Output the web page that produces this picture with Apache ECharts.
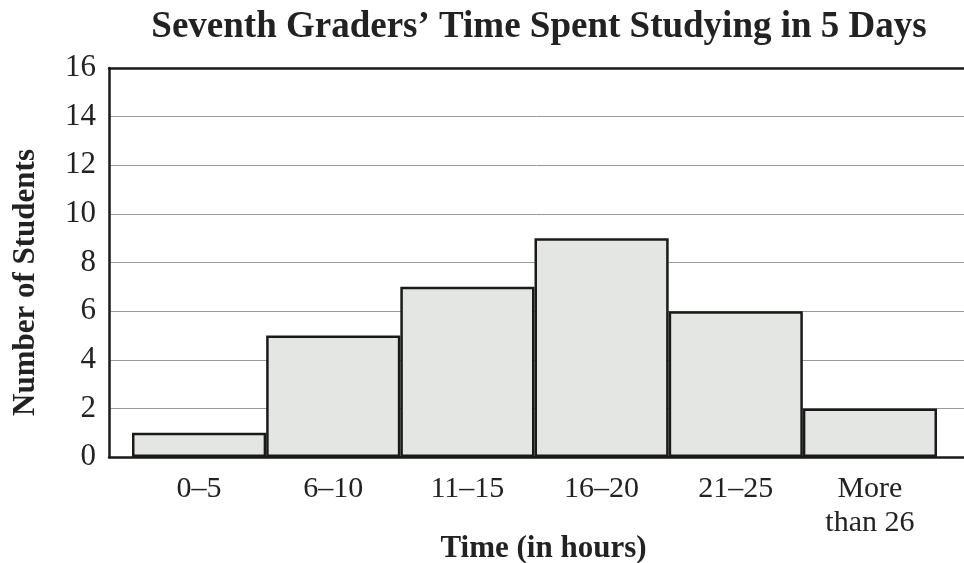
<!DOCTYPE html>
<html>
<head>
<meta charset="utf-8">
<script src="https://cdn.jsdelivr.net/npm/echarts@6/dist/echarts.min.js"></script>
<style>
  html, body { margin: 0; padding: 0; background: #fff; }
  #chart { width: 964px; height: 563px; }
</style>
</head>
<body>
<div id="chart"></div>
<script>
const timeRanges = ["0\u20135", "6\u201310", "11\u201315", "16\u201320", "21\u201325", "More\nthan 26"];
const studentCounts = [1, 5, 7, 9, 6, 2];
const yTicks = { min: 0, max: 16, interval: 2 };

const serif = "'Liberation Serif', 'DejaVu Serif', serif";

const chart = echarts.init(document.getElementById("chart"));
chart.setOption({
    backgroundColor: "#ffffff",
    animation: false,
    title: {
        text: "Seventh Graders\u2019 Time Spent Studying in 5 Days",
        left: 534,
        textAlign: "center",
        top: 4,
        textStyle: { fontFamily: serif, fontWeight: "bold", fontSize: 37, color: "#222" }
    },
    grid: [
        // frame grid (gridlines, axis lines)
        { left: 109, right: 0, top: 68, bottom: 106, outerBoundsMode: "none" },
        // bars grid
        { left: 132, right: 27, top: 68, bottom: 106, outerBoundsMode: "none" }
    ],
    xAxis: [
        {
            gridIndex: 0, type: "value", min: 0, max: 1, position: "bottom",
            axisLine: { show: true, lineStyle: { color: "#1a1a1a", width: 2.5 } },
            axisTick: { show: false }, axisLabel: { show: false }, splitLine: { show: false },
            name: "Time (in hours)", nameLocation: "middle", nameGap: 76,
            nameTextStyle: { fontFamily: serif, fontWeight: "bold", fontSize: 31, color: "#222", padding: [0, 0, 0, 14] }
        },
        {
            gridIndex: 0, type: "value", min: 0, max: 1, position: "top",
            axisLine: { show: true, lineStyle: { color: "#1a1a1a", width: 2.5 } },
            axisTick: { show: false }, axisLabel: { show: false }, splitLine: { show: false }
        },
        {
            gridIndex: 1, type: "category", data: timeRanges,
            axisLine: { show: false }, axisTick: { show: false },
            axisLabel: { fontFamily: serif, fontSize: 30, color: "#222", margin: 15, lineHeight: 34 }
        }
    ],
    yAxis: [
        {
            gridIndex: 0, type: "value", min: yTicks.min, max: yTicks.max, interval: yTicks.interval,
            axisLine: { show: true, lineStyle: { color: "#1a1a1a", width: 2.5 } },
            axisTick: { show: false },
            axisLabel: { fontFamily: serif, fontSize: 31, color: "#222", margin: 13 },
            splitLine: { show: true, lineStyle: { color: "#9a9a9a", width: 1 } },
            name: "Number of Students", nameLocation: "middle", nameGap: 68, nameRotate: 90,
            nameTextStyle: { fontFamily: serif, fontWeight: "bold", fontSize: 31, color: "#222", padding: [0, 40, 0, 0] }
        },
        {
            gridIndex: 1, type: "value", min: yTicks.min, max: yTicks.max,
            show: false
        }
    ],
    series: [
        {
            type: "bar",
            xAxisIndex: 2,
            yAxisIndex: 1,
            data: studentCounts,
            barCategoryGap: "0%",
            itemStyle: { color: "#e4e6e3", borderColor: "#1a1a1a", borderWidth: 2.5 }
        }
    ]
});
</script>
</body>
</html>
